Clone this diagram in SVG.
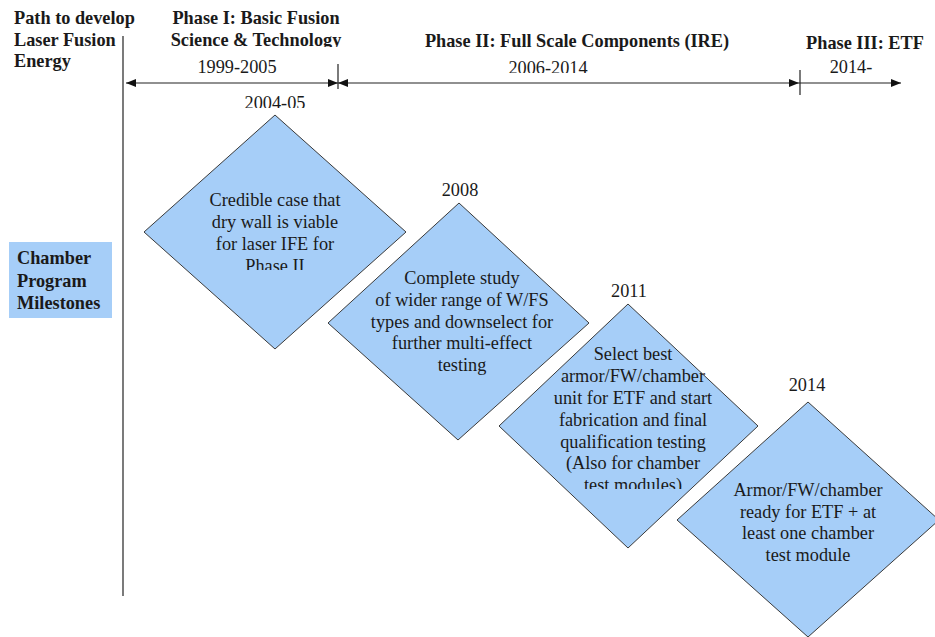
<svg xmlns="http://www.w3.org/2000/svg" width="935" height="637" viewBox="0 0 935 637" font-family="'Liberation Serif', 'Times New Roman', 'DejaVu Serif', serif">
<style>
text{font-family:'Liberation Serif','Times New Roman','DejaVu Serif',serif;fill:#1a1a1a;font-size:18.3px}
.b{font-weight:bold}
.c{text-anchor:middle}
.d{fill:#a6cef8;stroke:#3a3a3a;stroke-width:1}
.ln{stroke:#222;stroke-width:1.2;fill:none}
</style>
<defs>
<marker id="ah" viewBox="0 0 10 8" refX="10" refY="4" markerWidth="10" markerHeight="8" markerUnits="userSpaceOnUse" orient="auto-start-reverse">
<path d="M0,0 L10,4 L0,8 Z" fill="#111"/>
</marker>
<clipPath id="cSci"><rect x="150" y="30" width="220" height="17"/></clipPath>
<clipPath id="c0614"><rect x="480" y="55" width="140" height="18"/></clipPath>
<clipPath id="c0405"><rect x="230" y="90" width="90" height="18"/></clipPath>
<clipPath id="cPh2"><rect x="200" y="252" width="150" height="18"/></clipPath>
<clipPath id="cTm"><rect x="560" y="470" width="150" height="19"/></clipPath>
</defs>
<rect width="935" height="637" fill="#fff"/>

<g id="header">
<text class="b" x="14" y="24">Path to develop</text>
<text class="b" x="14" y="46">Laser Fusion</text>
<text class="b" x="14" y="67">Energy</text>
<text class="b c" x="256" y="24">Phase I: Basic Fusion</text>
<text class="b c" x="256" y="46" clip-path="url(#cSci)">Science &amp; Technology</text>
<text class="c" x="237" y="73">1999-2005</text>
<text class="b c" x="577" y="47">Phase II: Full Scale Components (IRE)</text>
<text class="c" x="548" y="74" clip-path="url(#c0614)">2006-2014</text>
<text class="b c" x="865" y="49">Phase III: ETF</text>
<text class="c" x="851" y="73">2014-</text>
</g>

<g id="connectors">
<line class="ln" x1="123" y1="36" x2="123" y2="596"/>
<line class="ln" x1="126" y1="83" x2="338" y2="83" marker-start="url(#ah)" marker-end="url(#ah)"/>
<line class="ln" x1="338" y1="83" x2="799" y2="83" marker-start="url(#ah)" marker-end="url(#ah)"/>
<line class="ln" x1="799" y1="83" x2="901" y2="83" marker-end="url(#ah)"/>
<line class="ln" x1="338" y1="64" x2="338" y2="89"/>
<line class="ln" x1="800" y1="70" x2="800" y2="95"/>
</g>

<g id="label">
<rect x="9" y="242" width="103" height="76" fill="#a6cef8"/>
<text class="b" x="17" y="264">Chamber</text>
<text class="b" x="17" y="287">Program</text>
<text class="b" x="17" y="309">Milestones</text>
</g>

<g id="m1">
<text class="c" x="275" y="109" clip-path="url(#c0405)">2004-05</text>
<polygon class="d" points="275,115 406,232 275,349 144,232"/>
<text class="c" x="275" y="206">Credible case that</text>
<text class="c" x="275" y="228">dry wall is viable</text>
<text class="c" x="275" y="250">for laser IFE for</text>
<text class="c" x="275" y="272" clip-path="url(#cPh2)">Phase II</text>
</g>

<g id="m2">
<text class="c" x="460" y="196">2008</text>
<polygon class="d" points="459,203 589,323 458,440 328,323"/>
<text class="c" x="462" y="284">Complete study</text>
<text class="c" x="462" y="306">of wider range of W/FS</text>
<text class="c" x="462" y="328">types and downselect for</text>
<text class="c" x="462" y="349">further multi-effect</text>
<text class="c" x="462" y="371">testing</text>
</g>

<g id="m3">
<text class="c" x="629" y="297">2011</text>
<polygon class="d" points="628,304 758,426 628,548 499,426"/>
<text class="c" x="633" y="360">Select best</text>
<text class="c" x="633" y="382">armor/FW/chamber</text>
<text class="c" x="633" y="404">unit for ETF and start</text>
<text class="c" x="633" y="426">fabrication and final</text>
<text class="c" x="633" y="448">qualification testing</text>
<text class="c" x="633" y="469">(Also for chamber</text>
<text class="c" x="633" y="491" clip-path="url(#cTm)">test modules)</text>
</g>

<g id="m4">
<text class="c" x="807" y="391">2014</text>
<polygon class="d" points="808,402 939,520 808,637 677,520"/>
<text class="c" x="808" y="496">Armor/FW/chamber</text>
<text class="c" x="808" y="518">ready for ETF + at</text>
<text class="c" x="808" y="539">least one chamber</text>
<text class="c" x="808" y="561">test module</text>
</g>
</svg>
